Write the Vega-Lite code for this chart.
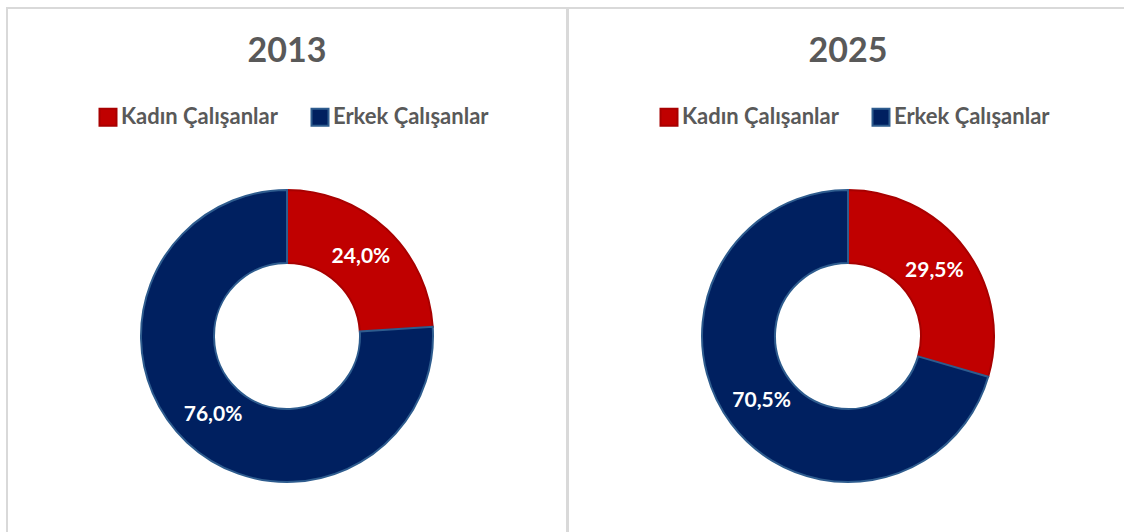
{
  "$schema": "https://vega.github.io/schema/vega-lite/v6.json",
  "padding": {"left": 6, "top": 7, "right": 0, "bottom": 0},
  "spacing": -1,
  "background": "white",
  "config": {
    "view": {"stroke": "#D9D9D9", "strokeWidth": 2},
    "font": "Lato"
  },
  "datasets": {
    "d2013": [
      {"category": "Kadın Çalışanlar", "value": 24.0, "label": "24,0%"},
      {"category": "Erkek Çalışanlar", "value": 76.0, "label": "76,0%"}
    ],
    "d2025": [
      {"category": "Kadın Çalışanlar", "value": 29.5, "label": "29,5%"},
      {"category": "Erkek Çalışanlar", "value": 70.5, "label": "70,5%"}
    ]
  },
  "hconcat": [
    {
      "width": 560,
      "height": 656,
      "view": {"stroke": "#D9D9D9", "strokeWidth": 2, "fill": "white"},
      "data": {"name": "d2013"},
      "title": {"text": "2013", "fontSize": 34, "font": "Lato", "fontWeight": "bold", "color": "#595959", "anchor": "middle", "baseline": "alphabetic", "offset": -88},
      "encoding": {
        "theta": {"field": "value", "type": "quantitative", "stack": true},
        "order": {"field": "category", "sort": "descending"}
      },
      "layer": [
        {
          "mark": {"type": "arc", "outerRadius": 146, "innerRadius": 73, "strokeWidth": 2},
          "encoding": {
            "color": {"field": "category", "type": "nominal", "scale": {"domain": ["Kadın Çalışanlar", "Erkek Çalışanlar"], "range": ["#C00000", "#002060"]},
              "legend": {"orient": "none", "legendX": 90, "legendY": 98, "direction": "horizontal", "title": null, "symbolType": "square", "symbolSize": 289, "symbolStrokeWidth": 2, "symbolOpacity": 1, "labelFont": "Lato", "labelFontSize": 22, "labelFontWeight": "bold", "labelColor": "#595959", "columnPadding": 29, "labelOffset": 2}},
            "stroke": {"field": "category", "type": "nominal", "scale": {"domain": ["Kadın Çalışanlar", "Erkek Çalışanlar"], "range": ["#A80000", "#2E5C8E"]}}
          }
        },
        {
          "mark": {"type": "text", "radius": 108, "font": "Lato", "fontSize": 21, "fontWeight": "bold", "color": "white"},
          "encoding": {"text": {"field": "label"}, "detail": {"field": "category"}}
        }
      ]
    },
    {
      "width": 560,
      "height": 656,
      "view": {"stroke": "#D9D9D9", "strokeWidth": 2, "fill": "white"},
      "data": {"name": "d2025"},
      "title": {"text": "2025", "fontSize": 34, "font": "Lato", "fontWeight": "bold", "color": "#595959", "anchor": "middle", "baseline": "alphabetic", "offset": -88},
      "encoding": {
        "theta": {"field": "value", "type": "quantitative", "stack": true},
        "order": {"field": "category", "sort": "descending"}
      },
      "layer": [
        {
          "mark": {"type": "arc", "outerRadius": 146, "innerRadius": 73, "strokeWidth": 2},
          "encoding": {
            "color": {"field": "category", "type": "nominal", "scale": {"domain": ["Kadın Çalışanlar", "Erkek Çalışanlar"], "range": ["#C00000", "#002060"]},
              "legend": {"orient": "none", "legendX": 90, "legendY": 98, "direction": "horizontal", "title": null, "symbolType": "square", "symbolSize": 289, "symbolStrokeWidth": 2, "symbolOpacity": 1, "labelFont": "Lato", "labelFontSize": 22, "labelFontWeight": "bold", "labelColor": "#595959", "columnPadding": 29, "labelOffset": 2}},
            "stroke": {"field": "category", "type": "nominal", "scale": {"domain": ["Kadın Çalışanlar", "Erkek Çalışanlar"], "range": ["#A80000", "#2E5C8E"]}}
          }
        },
        {
          "mark": {"type": "text", "radius": 108, "font": "Lato", "fontSize": 21, "fontWeight": "bold", "color": "white"},
          "encoding": {"text": {"field": "label"}, "detail": {"field": "category"}}
        }
      ]
    }
  ],
  "resolve": {"scale": {"color": "independent", "stroke": "independent"}, "legend": {"color": "independent", "stroke": "independent"}}
}
